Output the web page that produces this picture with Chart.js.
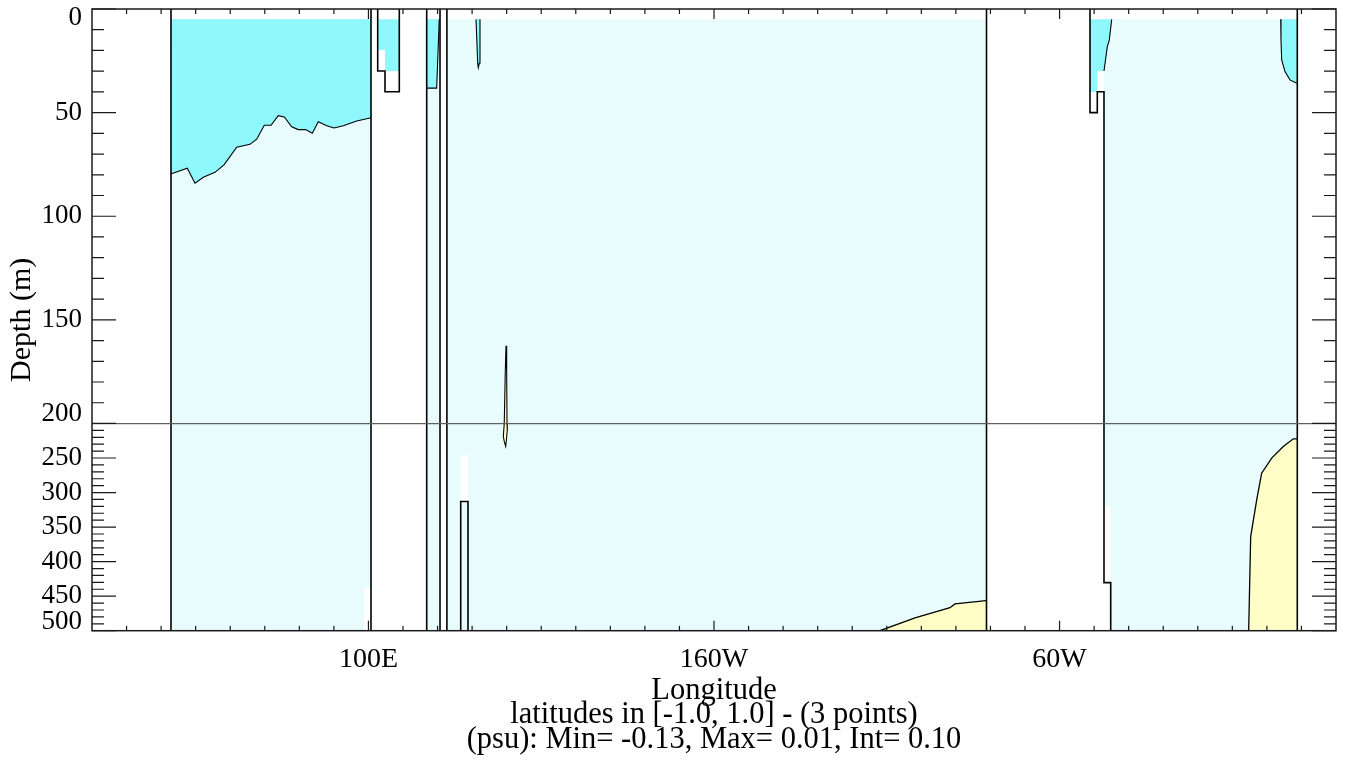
<!DOCTYPE html>
<html><head><meta charset="utf-8">
<script src="https://cdn.jsdelivr.net/npm/chart.js"></script>
<style>html,body{margin:0;padding:0;background:#fff;overflow:hidden}canvas{display:block}</style>
</head><body>
<canvas id="c" width="1347" height="762"></canvas>
<script>
// ===== data: [longitude (deg E, 0-380), depth (m)] =====
const lonTicks = [30,40,50,60,70,80,90,100,110,120,130,140,150,160,170,180,190,200,210,220,230,240,250,260,270,280,290,300,310,320,330,340,350,360,370];
const lonLabels = {100:'100E', 200:'160W', 300:'60W'};
const depthTicks = [0,10,20,30,40,50,60,70,80,90,100,110,120,130,140,150,160,170,180,190,200,210,220,230,240,250,260,270,280,290,300,310,320,330,340,350,360,370,380,390,400,410,420,430,440,450,460,470,480,490,500];
const depthMajor = [0,50,100,150,200,250,300,350,400,450,500];
const xTitleLines = ['Longitude', 'latitudes in [-1.0, 1.0] - (3 points)', '(psu): Min= -0.13, Max= 0.01, Int= 0.10'];

// ocean (light cyan, -0.1..0 psu)
const indianLight   = [[42.86,5],[100.74,5],[100.74,500],[42.86,500]];
const makassarLight = [[116.86,5],[120.71,5],[120.71,500],[116.86,500]];
const pacificLight  = [[122.7,5],[278.86,5],[278.86,500],[122.7,500]];
const atlanticLight = [[312.86,5],[368.8,5],[368.8,500],[314.8,500],[314.8,319.3],[312.86,319.3]];

// contour -0.1 (cyan below -0.1 psu)
const indianContour = [[42.78,79.6],[47.58,76.8],[49.81,84.1],[52.21,81.2],[55.59,78.8],[58.2,75.2],[61.87,66.7],[65.72,65.3],[67.66,62.8],[69.86,56.1],[71.8,56.1],[73.91,51.5],[75.65,52.1],[77.79,56.8],[79.7,58.2],[81.84,58.2],[83.75,59.9],[85.49,54.4],[87.92,56.3],[90.03,57.4],[92.72,56.3],[96.6,54.0],[100.45,52.6],[100.74,52.6]];
const smallBasinCyan = [[102.68,5],[108.93,5],[108.93,29.9],[104.79,29.9],[104.79,19.8],[102.68,19.8]];
const makassarContour = [[116.86,38.2],[119.74,38.2],[120.12,21.6],[120.49,5]];
const pacificCyanSliver = [[131.13,5],[131.62,26.2],[131.79,28.3],[132.08,26.2],[132.28,5]];
const atlWestContour = [[315.09,5],[314.39,15.0],[313.82,18.2],[312.86,29.9]];
const atlWestCyanBase = [[310.92,29.9],[310.92,40],[308.81,40],[308.81,5]];
const atlEastContour = [[364.0,5],[364.08,15.0],[364.28,24.6],[365.24,30.2],[366.68,34.2],[368.63,35.8],[368.8,35.8]];

// contour 0 (yellow above 0 psu)
const pacificYellowSliver = [[139.81,162.5],[140.0,175],[140.1,200],[140.18,209.1],[139.9,225],[139.72,233.3],[139.3,226],[139.03,218.8],[139.3,200],[139.6,175]];
const pacificYellowContour = [[248.04,500],[258.17,481.6],[268.29,466.7],[269.74,461.3],[278.72,456.5],[278.86,456.5]];
const atlanticYellowContour = [[354.73,500],[355.31,363.8],[357.05,310.6],[358.49,271.9],[361.39,250.1],[364.75,233.3],[367.64,222.2],[368.8,222.2]];

// masked (no data) patches
const indianMask  = [[98.7,438.2],[100.74,438.2],[100.74,500],[98.7,500]];
const pacificMask = [[126.7,245.4],[128.81,245.4],[128.81,313],[126.7,313]];

// land outlines
const landLines = [
  [[42.86,0],[42.86,500]],
  [[100.74,0],[100.74,500]],
  [[102.68,0],[102.68,29.9],[104.79,29.9],[104.79,39.9],[108.93,39.9],[108.93,0]],
  [[116.86,0],[116.86,500]],
  [[120.71,0],[120.71,500]],
  [[122.7,0],[122.7,500]],
  [[126.7,500],[126.7,313],[128.81,313],[128.81,500]],
  [[278.86,0],[278.86,500]],
  [[308.81,0],[308.81,50],[310.92,50],[310.92,39.9],[312.86,39.9],[312.86,430.4],[314.8,430.4],[314.8,500]],
  [[368.8,0],[368.8,500]]
];

// ===== colours =====
const CYAN = '#8ff8fd', LIGHT = '#e8fcfe', YELLOW = '#fefec6', WHITE = '#ffffff';

// ===== depth scale: 0-200 m on upper 2/3, 200-500 m on lower 1/3 =====
class DepthScale extends Chart.LinearScale {
  getPixelForValue(v) {
    const f = v <= 200 ? (v / 200) * (2 / 3) : 2 / 3 + ((v - 200) / 300) / 3;
    return this.top + f * (this.bottom - this.top);
  }
  getValueForPixel(p) {
    const f = (p - this.top) / (this.bottom - this.top);
    return f <= 2 / 3 ? f * 1.5 * 200 : 200 + (f - 2 / 3) * 900;
  }
}
DepthScale.id = 'depth';
DepthScale.defaults = {};
Chart.register(DepthScale);

const pts = a => a.map(([x, y]) => ({x, y}));
const layers = [];
const addFill = (a, c) => layers.push({data: pts(a), showLine: true, fill: 'shape', backgroundColor: c, borderColor: 'rgba(0,0,0,0)', borderWidth: 0, pointRadius: 0});
const addLine = (a, w) => layers.push({data: pts(a), showLine: true, fill: false, borderColor: '#000', borderWidth: w, pointRadius: 0});

[indianLight, makassarLight, pacificLight, atlanticLight].forEach(a => addFill(a, LIGHT));
addFill([[42.86,5],[100.74,5]].concat(indianContour.slice().reverse()), CYAN);
addFill(smallBasinCyan, CYAN);
addFill([[116.86,5]].concat(makassarContour.slice().reverse()), CYAN);
addFill(pacificCyanSliver, CYAN);
addFill(atlWestContour.concat(atlWestCyanBase), CYAN);
addFill(atlEastContour.concat([[368.8,5]]), CYAN);
addFill(pacificYellowSliver, YELLOW);
addFill(pacificYellowContour.concat([[278.86,500]]), YELLOW);
addFill(atlanticYellowContour.concat([[368.8,500]]), YELLOW);
addFill(indianMask, WHITE);
addFill(pacificMask, WHITE);
addLine(indianContour, 1.1);
addLine(makassarContour, 1.1);
addLine(pacificCyanSliver, 1.1);
addLine(atlWestContour, 1.1);
addLine(atlEastContour, 1.1);
addLine(pacificYellowSliver.concat([pacificYellowSliver[0]]), 1.1);
addLine(pacificYellowContour, 1.3);
addLine(atlanticYellowContour, 1.3);
landLines.forEach(a => addLine(a, 1.6));
layers.forEach((d, i) => { d.order = layers.length - i; });

const framePlugin = {
  id: 'frame',
  afterDraw(chart) {
    const {ctx, chartArea: a, scales: {x, y}} = chart;
    ctx.save();
    ctx.strokeStyle = '#1a1a1a';
    ctx.lineWidth = 1.2;
    ctx.beginPath();
    lonTicks.forEach(v => {
      const px = x.getPixelForValue(v);
      const len = lonLabels[v] ? 10 : 5;
      ctx.moveTo(px, a.bottom); ctx.lineTo(px, a.bottom - len);
      ctx.moveTo(px, a.top); ctx.lineTo(px, a.top + len);
    });
    depthTicks.forEach(v => {
      const py = y.getPixelForValue(v);
      const len = depthMajor.includes(v) ? 24 : 12;
      ctx.moveTo(a.left, py); ctx.lineTo(a.left + len, py);
      ctx.moveTo(a.right, py); ctx.lineTo(a.right - len, py);
    });
    ctx.stroke();
    ctx.lineWidth = 1.5;
    ctx.strokeRect(a.left, a.top, a.right - a.left, a.bottom - a.top);
    ctx.restore();
  }
};

const SERIF = "'Liberation Serif', 'DejaVu Serif', serif";

new Chart(document.getElementById('c'), {
  type: 'scatter',
  data: {datasets: layers},
  options: {
    responsive: false, animation: false, devicePixelRatio: 1,
    layout: {padding: {top: 9, right: 11, left: 0, bottom: 0}},
    plugins: {legend: {display: false}, tooltip: {enabled: false}},
    elements: {line: {tension: 0}},
    scales: {
      x: {
        type: 'linear', position: 'bottom', min: 20, max: 380,
        afterBuildTicks: s => { s.ticks = lonTicks.map(v => ({value: v})); },
        afterFit: s => { s.height = 131.3; s.paddingLeft = 0; s.paddingRight = 0; s.paddingTop = 0; s.paddingBottom = 0; },
        grid: {display: false, drawTicks: false},
        border: {display: false},
        ticks: {autoSkip: false, maxRotation: 0, padding: 12, color: '#000',
                font: {family: SERIF, size: 28}, callback: v => lonLabels[v] || ''},
        title: {display: true, text: xTitleLines, color: '#000',
                font: {family: SERIF, size: 30.5, lineHeight: '24.5px'}, padding: {top: 0, bottom: 10}}
      },
      y: {
        type: 'depth', position: 'left', min: 0, max: 500,
        afterBuildTicks: s => { s.ticks = depthTicks.map(v => ({value: v})); },
        afterFit: s => { s.width = 92; s.paddingLeft = 0; s.paddingRight = 0; s.paddingTop = 0; s.paddingBottom = 0; },
        grid: {z: 1, drawTicks: false, drawOnChartArea: true, lineWidth: 1.3,
               color: c => (c.tick && c.tick.value === 200) ? '#5f5f5f' : 'rgba(0,0,0,0)'},
        border: {display: false},
        ticks: {autoSkip: false, padding: 10, color: '#000',
                font: {family: SERIF, size: 27, lineHeight: 0.68},
                callback: v => {
                  if (!depthMajor.includes(v)) return '';
                  if (v === 0) return ['', '0'];
                  if (v === 200 || v === 500) return [String(v), ''];
                  return String(v);
                }},
        title: {display: true, text: 'Depth (m)', color: '#000',
                font: {family: SERIF, size: 30}, padding: {top: 4, bottom: 0}}
      }
    }
  },
  plugins: [framePlugin]
});
</script>
</body></html>
